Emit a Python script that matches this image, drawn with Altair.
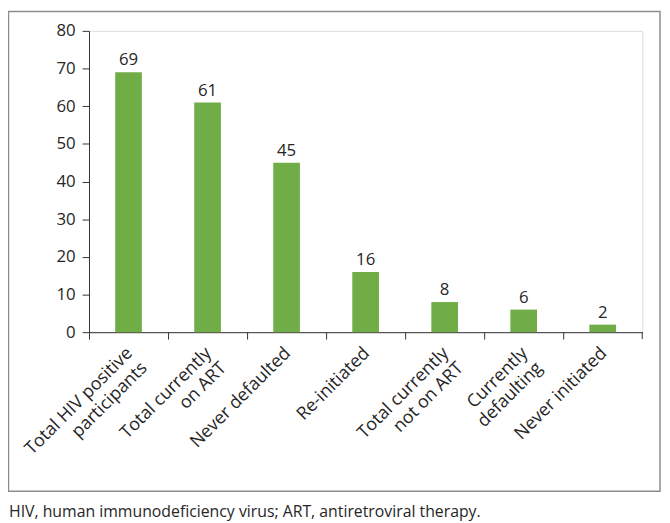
import altair as alt
import pandas as pd

categories = [
    "Total HIV positive|participants",
    "Total currently|on ART",
    "Never defaulted",
    "Re-initiated",
    "Total currently|not on ART",
    "Currently|defaulting",
    "Never initiated",
]
values = [69, 61, 45, 16, 8, 6, 2]
y_ticks = [0, 10, 20, 30, 40, 50, 60, 70, 80]
footnote = "HIV, human immunodeficiency virus; ART, antiretroviral therapy."

df = pd.DataFrame({"cat": categories, "val": values})

W, H = 560, 305
FONT = "Open Sans"
TXT = "#262626"

xenc = alt.X(
    "cat:N",
    sort=categories,
    scale=alt.Scale(paddingInner=0, paddingOuter=0),
    axis=alt.Axis(
        title=None,
        labelExpr="split(datum.label, '|')",
        labelAngle=-45,
        labelAlign="right",
        labelBaseline="top",
        labelFont=FONT,
        labelFontSize=18,
        labelColor=TXT,
        labelPadding=5,
        labelOffset=-5,
        labelLineHeight=21,
        bandPosition=0,
        tickSize=7,
        tickColor="#333333",
        domainColor="#333333",
        labelLimit=300,
    ),
)

yenc = alt.Y(
    "val:Q",
    scale=alt.Scale(domain=[0, 80], nice=False),
    axis=alt.Axis(
        title=None,
        values=y_ticks,
        labelOverlap=False,
        grid=False,
        tickSize=7,
        tickColor="#333333",
        domainColor="#333333",
        labelFont=FONT,
        labelFontSize=17,
        labelColor=TXT,
        labelPadding=7,
    ),
)

bars = alt.Chart(df).mark_bar(color="#70AD47", width=27).encode(x=xenc, y=yenc)

labels = alt.Chart(df).mark_text(
    font=FONT, fontSize=17, color=TXT, baseline="bottom", dy=-3
).encode(x=xenc, y=yenc, text="val:Q")

one = alt.Data(values=[{"a": 1}])

end_tick = alt.Chart(one).mark_rule(color="#333333").encode(
    x=alt.value(W), y=alt.value(H), y2=alt.value(H + 7)
)

border = alt.Chart(one).mark_rect(
    fill=None, stroke="#8c8c8c", strokeWidth=1.5
).encode(
    x=alt.value(-81.5), x2=alt.value(578), y=alt.value(-19.5), y2=alt.value(466)
)

foot = alt.Chart(one).mark_text(
    text=footnote, font=FONT, fontSize=16, color=TXT, align="left", baseline="alphabetic"
).encode(x=alt.value(-81), y=alt.value(492))

chart = (
    alt.layer(border, bars, labels, end_tick, foot)
    .properties(
        width=W,
        height=H,
        autosize=alt.AutoSizeParams(type="none"),
        padding={"left": 82, "top": 20, "right": 20, "bottom": 190},
    )
    .configure_view(stroke=None)
    .configure(background="white")
)

chart.save("out.html", embed_options={"renderer": "svg", "actions": False})
